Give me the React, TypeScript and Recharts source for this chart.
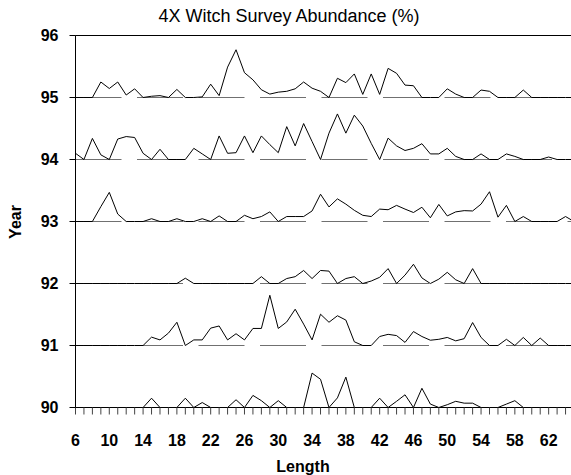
import React from 'react';
import { LineChart, Line, XAxis, YAxis, CartesianGrid, ReferenceLine } from 'recharts';

const lengths: number[] = [
  6, 7, 8, 9, 10, 11, 12, 13, 14, 15, 16, 17, 18, 19, 20, 21, 22, 23, 24, 25,
  26, 27, 28, 29, 30, 31, 32, 33, 34, 35, 36, 37, 38, 39, 40, 41, 42, 43, 44, 45,
  46, 47, 48, 49, 50, 51, 52, 53, 54, 55, 56, 57, 58, 59, 60, 61, 62, 63, 64, 65,
];

const years: number[] = [90, 91, 92, 93, 94, 95];

// abundance (%) offsets above each year's baseline, per length 6..65
const y95: number[] = [
  0, 0, 0, 0.25, 0.145, 0.25, 0.04, 0.14, 0, 0.02, 0.03, 0, 0.13, 0, 0, 0.01, 0.215, 0.03, 0.49, 0.77,
  0.4, 0.285, 0.125, 0.055, 0.086, 0.1, 0.14, 0.25, 0.15, 0.1, 0, 0.31, 0.24, 0.38, 0.05, 0.38, 0.05, 0.47, 0.39, 0.2,
  0.19, 0, 0, 0, 0.14, 0.055, 0, 0, 0.12, 0.1, 0, 0, 0, 0.12, 0, 0, 0, 0, 0, 0,
];
const y94: number[] = [
  0.1, 0, 0.34, 0.075, 0, 0.33, 0.37, 0.355, 0.1, 0, 0.165, 0, 0, 0, 0.18, 0.09, 0, 0.38, 0.1, 0.11,
  0.38, 0.11, 0.38, 0.24, 0.11, 0.53, 0.22, 0.58, 0.29, 0, 0.425, 0.735, 0.425, 0.715, 0.54, 0.26, 0, 0.345, 0.22, 0.145,
  0.18, 0.255, 0.09, 0.09, 0.18, 0.05, 0, 0, 0.09, 0, 0, 0.09, 0.05, 0, 0, 0, 0.04, 0, 0, 0,
];
const y93: number[] = [
  0, 0, 0, 0.24, 0.47, 0.12, 0, 0, 0, 0.045, 0, 0, 0.045, 0, 0, 0.045, 0, 0.09, 0, 0,
  0.1, 0.045, 0.08, 0.155, 0, 0.08, 0.08, 0.08, 0.17, 0.44, 0.235, 0.365, 0.28, 0.18, 0.1, 0.08, 0.2, 0.19, 0.26, 0.2,
  0.145, 0.23, 0.06, 0.275, 0.09, 0.155, 0.175, 0.17, 0.28, 0.48, 0.07, 0.26, 0, 0.08, 0, 0, 0, 0, 0.08, 0,
];
const y92: number[] = [
  0, 0, 0, 0, 0, 0, 0, 0, 0, 0, 0, 0, 0, 0.085, 0, 0, 0, 0, 0, 0,
  0, 0, 0.11, 0, 0, 0.08, 0.11, 0.21, 0.08, 0.21, 0.2, 0, 0.08, 0.11, 0, 0.04, 0.1, 0.24, 0, 0.135,
  0.31, 0.09, 0, 0.07, 0.18, 0.06, 0, 0.24, 0, 0, 0, 0, 0, 0, 0, 0, 0, 0, 0, 0,
];
const y91: number[] = [
  0, 0, 0, 0, 0, 0, 0, 0, 0, 0.135, 0.09, 0.2, 0.375, 0, 0.09, 0.09, 0.28, 0.315, 0.09, 0.19,
  0.09, 0.275, 0.275, 0.81, 0.275, 0.38, 0.585, 0.345, 0.09, 0.505, 0.375, 0.48, 0.41, 0.06, 0, 0, 0.145, 0.18, 0.16, 0.05,
  0.225, 0.145, 0.085, 0.1, 0.13, 0.075, 0.11, 0.37, 0.13, 0, 0, 0.1, 0, 0.13, 0, 0.12, 0, 0, 0, 0,
];
const y90: number[] = [
  0, 0, 0, 0, 0, 0, 0, 0, 0, 0.15, 0, 0, 0, 0.15, 0, 0.08, 0, 0, 0, 0.125,
  0, 0.195, 0.11, 0, 0.11, 0, 0, 0, 0.555, 0.455, 0, 0.155, 0.49, 0, 0, 0, 0.15, 0, 0.1, 0.205,
  0, 0.31, 0.055, 0, 0.045, 0.1, 0.07, 0.07, 0, 0, 0, 0.055, 0.11, 0, 0, 0, 0, 0, 0, 0,
];

const yTicks: number[] = [90, 91, 92, 93, 94, 95, 96];
const xLabelTicks: number[] = [6, 10, 14, 18, 22, 26, 30, 34, 38, 42, 46, 50, 54, 58, 62];

const title = '4X Witch Survey Abundance (%)';
const xTitle = 'Length';
const yTitle = 'Year';

const seriesList = [y90, y91, y92, y93, y94, y95];

const data = lengths.map((len, i) => {
  const row: Record<string, number> = { len };
  years.forEach((yr, k) => {
    row['y' + yr] = yr + seriesList[k][i];
  });
  return row;
});

const FONT = "'Liberation Sans', Arial, sans-serif";

export default function App() {
  return (
    <div style={{ position: 'absolute', left: 0, top: 0, width: 571, height: 475, overflow: 'hidden', background: '#fff' }}>
      <div
        style={{
          position: 'absolute',
          left: 0,
          top: 6,
          width: 578,
          textAlign: 'center',
          fontFamily: FONT,
          fontSize: 18,
          lineHeight: '20px',
          color: '#000',
        }}
      >
        {title}
      </div>
      <LineChart
        width={575}
        height={475}
        data={data}
        margin={{ top: 35.5, right: 1, left: 0, bottom: 0 }}
        style={{ position: 'absolute', left: 0, top: 0 }}
      >
        <CartesianGrid vertical={false} stroke="#707070" strokeDasharray="46 15.5" />
        <ReferenceLine y={96} stroke="#000" strokeWidth={1} />
        <XAxis
          dataKey="len"
          type="number"
          domain={[6, 65]}
          ticks={lengths}
          interval={0}
          allowDataOverflow
          height={67.5}
          tickSize={7}
          tickMargin={20}
          stroke="#000"
          tickLine={{ stroke: '#444' }}
          tick={{ fill: '#000', fontSize: 16, fontWeight: 'bold', fontFamily: FONT }}
          tickFormatter={(v: number) => (xLabelTicks.includes(v) ? String(v) : '')}
          label={{
            content: () => (
              <text x={303} y={472} textAnchor="middle" fontFamily={FONT} fontSize={16} fontWeight="bold" fill="#000">
                {xTitle}
              </text>
            ),
          }}
        />
        <YAxis
          type="number"
          domain={[90, 96]}
          ticks={yTicks}
          interval={0}
          width={75.5}
          tickSize={6}
          tickMargin={11}
          stroke="#000"
          tick={{ fill: '#000', fontSize: 16, fontWeight: 'bold', fontFamily: FONT }}
          label={{
            content: () => (
              <text
                x={15}
                y={222}
                transform="rotate(-90 15 222)"
                textAnchor="middle"
                dominantBaseline="central"
                fontFamily={FONT}
                fontSize={16}
                fontWeight="bold"
                fill="#000"
              >
                {yTitle}
              </text>
            ),
          }}
        />
        {years.map((yr) => (
          <Line
            key={yr}
            type="linear"
            dataKey={'y' + yr}
            stroke="#000"
            strokeWidth={1}
            dot={false}
            activeDot={false}
            isAnimationActive={false}
          />
        ))}
      </LineChart>
    </div>
  );
}
